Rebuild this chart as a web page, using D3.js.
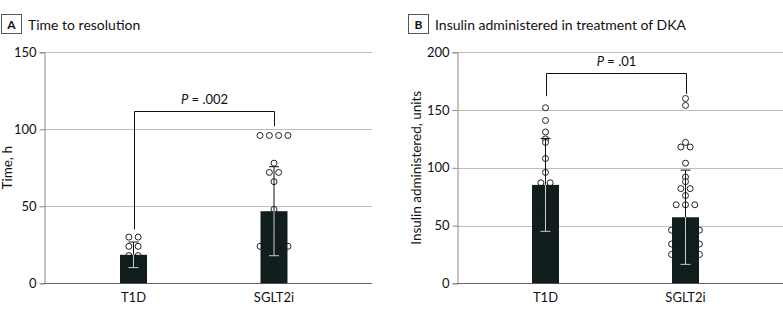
<!DOCTYPE html>
<html>
<head>
<meta charset="utf-8">
<script src="https://cdn.jsdelivr.net/npm/d3@7"></script>
<style>
  html, body { margin: 0; padding: 0; background: #fff; }
  svg { display: block; font-family: Lato, "Liberation Sans", sans-serif; }
</style>
</head>
<body>
<div id="container"></div>
<script>
const width = 783, height = 316;

// Groups on the x axis (both panels)
const categories = ["T1D", "SGLT2i"];

// Panel A: time to resolution, h (bar = mean, whisker = SD)
const timeMean = [18.5, 46.8];
const timeSD = [8.3, 28.9];
const timeT1D = [30, 30, 24, 24, 18, 18, 12, 12, 6, 6];
const timeSGLT2i = [96, 96, 96, 96, 78, 72, 72, 66, 48, 42, 36, 30, 24, 24, 24, 24, 18, 12, 6];
const timeTicks = [0, 50, 100, 150];

// Panel B: insulin administered, units
const insulinMean = [85.2, 57.2];
const insulinSD = [40.2, 40.8];
const insulinT1D = [152, 141, 131, 125, 122, 108, 96, 87, 87, 75, 62, 62, 50, 36, 25, 14];
const insulinSGLT2i = [160, 154, 122, 118, 118, 104, 92, 88, 82, 82, 76, 68, 68, 68,
  52, 46, 46, 46, 46, 40, 34, 34, 34, 34, 25, 25, 25, 25, 18, 13, 8, 8];
const insulinTicks = [0, 50, 100, 150, 200];

const barColor = "#0c1818";
const gridColor = "#bdbdbd";
const axisColor = "#8a8a8a";

const svg = d3.select("#container").append("svg")
  .attr("width", width).attr("height", height);

function drawPanel(cfg) {
  const g = svg.append("g");
  const y = d3.scaleLinear().domain([0, d3.max(cfg.ticks)]).range([283.3, 52.3]);
  const x = d3.scalePoint().domain(categories).range(cfg.centers);
  const bw = 27, cap = 5, step = 9.3, r = 3;

  // panel letter box + title
  g.append("rect")
    .attr("x", cfg.boxX + 0.5).attr("y", 14.5)
    .attr("width", 20).attr("height", 19)
    .attr("fill", "#fff").attr("stroke", "#555").attr("stroke-width", 1);
  g.append("text")
    .attr("x", cfg.boxX + 10.5).attr("y", 28.5)
    .attr("text-anchor", "middle")
    .style("font-size", "12px").style("font-weight", "700")
    .attr("fill", "#111")
    .text(cfg.letter);
  g.append("text")
    .attr("x", cfg.boxX + 27).attr("y", 29.5)
    .style("font-size", "14px").attr("fill", "#111")
    .text(cfg.title);

  // gridlines
  cfg.ticks.filter(d => d > 0).forEach(d => {
    g.append("line")
      .attr("x1", cfg.axisX).attr("x2", cfg.rightX)
      .attr("y1", Math.round(y(d)) + 0.5).attr("y2", Math.round(y(d)) + 0.5)
      .attr("stroke", gridColor).attr("stroke-width", 1);
  });

  // y axis
  const yAxis = g.append("g")
    .attr("transform", `translate(${cfg.axisX + 0.5},0)`)
    .call(d3.axisLeft(y).tickValues(cfg.ticks).tickSize(5).tickPadding(3));
  yAxis.select(".domain").attr("stroke", axisColor);
  yAxis.selectAll(".tick line").attr("stroke", axisColor);
  yAxis.selectAll("text")
    .attr("fill", "#111").style("font-size", "13px")
    .style("font-family", "Lato, 'Liberation Sans', sans-serif");

  // baseline
  g.append("line")
    .attr("x1", cfg.axisX).attr("x2", cfg.rightX)
    .attr("y1", Math.round(y(0)) + 0.5).attr("y2", Math.round(y(0)) + 0.5)
    .attr("stroke", "#666").attr("stroke-width", 1);

  // category labels
  categories.forEach(c => {
    g.append("text")
      .attr("x", x(c)).attr("y", 302)
      .attr("text-anchor", "middle")
      .style("font-size", "13px").attr("fill", "#111")
      .text(c);
  });

  // y label
  g.append("text")
    .attr("transform", `translate(${cfg.labelX},${(y(0) + y(d3.max(cfg.ticks))) / 2}) rotate(-90)`)
    .attr("text-anchor", "middle")
    .style("font-size", "13.5px").attr("fill", "#111")
    .text(cfg.yLabel);

  categories.forEach((c, i) => {
    const cx = x(c);
    const top = y(cfg.mean[i]);
    const up = y(cfg.mean[i] + cfg.sd[i]);
    const lo = y(cfg.mean[i] - cfg.sd[i]);

    // swarm: equal values spread symmetrically around the centre
    const vals = cfg.points[i];
    const groups = d3.groups(vals, v => v);
    const pts = [];
    groups.forEach(([v, arr]) => {
      arr.forEach((_, k) => pts.push({ v, dx: (k - (arr.length - 1) / 2) * step }));
    });

    g.selectAll(null).data(pts).join("circle")
      .attr("cx", d => cx + d.dx).attr("cy", d => y(d.v))
      .attr("r", r)
      .attr("fill", "#fff").attr("stroke", "#222").attr("stroke-width", 1);

    // bar (nearly opaque so hidden points show only faintly)
    g.append("rect")
      .attr("x", cx - bw / 2).attr("y", top)
      .attr("width", bw).attr("height", y(0) - top)
      .attr("fill", barColor).attr("fill-opacity", 0.975);

    // upper whisker
    g.append("line")
      .attr("x1", cx).attr("x2", cx).attr("y1", top).attr("y2", up)
      .attr("stroke", "#111").attr("stroke-width", 1);
    g.append("line")
      .attr("x1", cx - cap).attr("x2", cx + cap).attr("y1", up).attr("y2", up)
      .attr("stroke", "#111").attr("stroke-width", 1);

    // lower whisker inside bar
    g.append("line")
      .attr("x1", cx).attr("x2", cx).attr("y1", top).attr("y2", lo)
      .attr("stroke", "#c8cccc").attr("stroke-width", 1);
    g.append("line")
      .attr("x1", cx - cap).attr("x2", cx + cap).attr("y1", lo).attr("y2", lo)
      .attr("stroke", "#c8cccc").attr("stroke-width", 1);
  });

  // significance bracket
  const bt = Math.round(y(cfg.bracket[0])) + 0.5;
  const xl = Math.round(x(categories[0])) + 0.5;
  const xr = Math.round(x(categories[1])) + 0.5;
  g.append("path")
    .attr("d", `M${xl},${y(cfg.bracket[1])} V${bt} H${xr} V${y(cfg.bracket[2])}`)
    .attr("fill", "none").attr("stroke", "#111").attr("stroke-width", 1);
  const pt = g.append("text")
    .attr("x", (xl + xr) / 2).attr("y", bt - 8)
    .attr("text-anchor", "middle")
    .style("font-size", "13px").attr("fill", "#111");
  pt.append("tspan").style("font-style", "italic").text("P");
  pt.append("tspan").text(" = " + cfg.pValue);
}

drawPanel({
  letter: "A", title: "Time to resolution", boxX: 1,
  axisX: 44, rightX: 372, centers: [133.5, 274], labelX: 12,
  ticks: timeTicks, mean: timeMean, sd: timeSD,
  points: [timeT1D, timeSGLT2i],
  yLabel: "Time, h", bracket: [112, 35, 102], pValue: ".002"
});

drawPanel({
  letter: "B", title: "Insulin administered in treatment of DKA", boxX: 408,
  axisX: 457, rightX: 783, centers: [545.5, 685.5], labelX: 421,
  ticks: insulinTicks, mean: insulinMean, sd: insulinSD,
  points: [insulinT1D, insulinSGLT2i],
  yLabel: "Insulin administered, units", bracket: [182.3, 162, 164], pValue: ".01"
});
</script>
</body>
</html>
